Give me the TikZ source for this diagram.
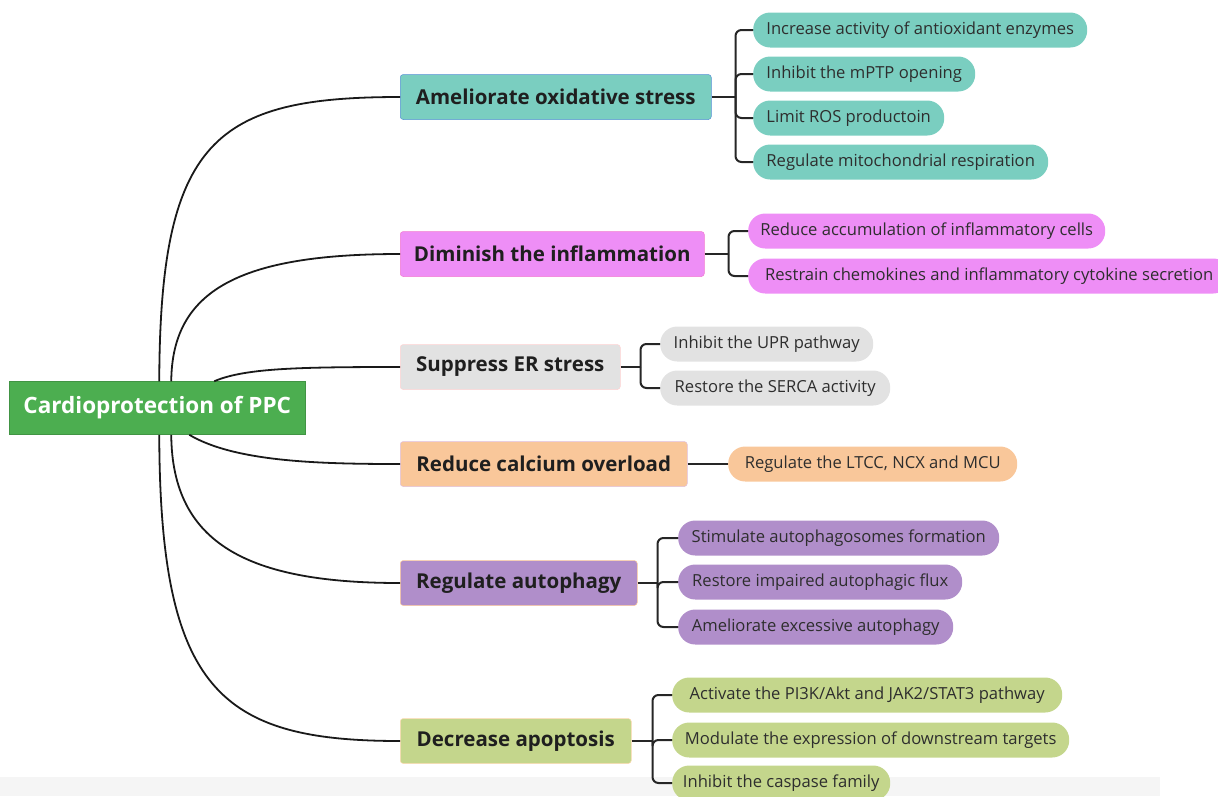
\documentclass[tikz,border=0pt]{standalone}
\usepackage{fontspec}
\setmainfont{Open Sans}
\usetikzlibrary{calc}
\definecolor{rootg}{RGB}{76,174,80}
\definecolor{tealc}{RGB}{122,206,192}
\definecolor{pinkc}{RGB}{238,142,246}
\definecolor{grayc}{RGB}{226,226,226}
\definecolor{peachc}{RGB}{249,199,154}
\definecolor{purplec}{RGB}{176,142,202}
\definecolor{olivec}{RGB}{196,214,140}
\definecolor{bandc}{RGB}{245,245,245}
\begin{document}
\begin{tikzpicture}[x=1pt,y=-1pt,
  rootbox/.style={fill=rootg, draw=rootg!85!black, line width=0.5pt, text=white,
    font=\bfseries\fontsize{22.5}{26}\selectfont, minimum height=53, minimum width=296,
    inner sep=0, anchor=west},
  lone/.style={rounded corners=3, minimum height=45, inner sep=0, anchor=west,
    line width=0.5pt, font=\bfseries\fontsize{20.5}{24}\selectfont, text=black!88},
  ltwo/.style={rounded corners=17, minimum height=35, inner sep=0, anchor=west,
    font=\fontsize{16.6}{19}\selectfont, text=black!82},
  conn/.style={line width=2pt, black!85},
  elbow/.style={conn, rounded corners=6},
  curve/.style={line width=1.8pt, black!90}]
\useasboundingbox (0,0) rectangle (1218,796);
\clip (0,0) rectangle (1218,796);
% faint band at the bottom
\fill[bandc] (0,777) rectangle (1160,796);

% root
\node[rootbox] (root) at (9,408) {Cardioprotection of PPC};

% level 1
\node[lone, fill=tealc, draw=tealc!70!blue, minimum width=311] (ox) at (400,97) {Ameliorate oxidative stress};
\node[lone, fill=pinkc, draw=pinkc!85!red, minimum width=304] (inf) at (400,254) {Diminish the inflammation};
\node[lone, fill=grayc, draw=pink!70, minimum width=220] (er) at (400,367) {Suppress ER stress};
\node[lone, fill=peachc, draw=violet!25, minimum width=287] (ca) at (400,464) {Reduce calcium overload};
\node[lone, fill=purplec, draw=orange!40, minimum width=237] (au) at (400,583) {Regulate autophagy};
\node[lone, fill=olivec, draw=orange!30, minimum width=231] (ap) at (400,741) {Decrease apoptosis};

% level 2
\node[ltwo, fill=tealc, minimum width=334] (ox1) at (753,30) {Increase activity of antioxidant enzymes};
\node[ltwo, fill=tealc, minimum width=222] (ox2) at (753,74) {Inhibit the mPTP opening};
\node[ltwo, fill=tealc, minimum width=191] (ox3) at (753,118) {Limit ROS productoin};
\node[ltwo, fill=tealc, minimum width=295] (ox4) at (753,162) {Regulate mitochondrial respiration};

\node[ltwo, fill=pinkc, minimum width=357] (in1) at (748,231) {Reduce accumulation of inflammatory cells};
\node[ltwo, fill=pinkc, minimum width=482] (in2) at (748,276) {Restrain chemokines and inflammatory cytokine secretion};

\node[ltwo, fill=grayc, minimum width=213] (er1) at (660,344) {Inhibit the UPR pathway};
\node[ltwo, fill=grayc, minimum width=230] (er2) at (660,388) {Restore the SERCA activity};

\node[ltwo, fill=peachc, minimum width=289] (ca1) at (728,464) {Regulate the LTCC, NCX and MCU};

\node[ltwo, fill=purplec, minimum width=321] (au1) at (678,538) {Stimulate autophagosomes formation};
\node[ltwo, fill=purplec, minimum width=284] (au2) at (678,582) {Restore impaired autophagic flux};
\node[ltwo, fill=purplec, minimum width=275] (au3) at (678,627) {Ameliorate excessive autophagy};

\node[ltwo, fill=olivec, minimum width=390] (ap1) at (672,695) {Activate the PI3K/Akt and JAK2/STAT3 pathway};
\node[ltwo, fill=olivec, minimum width=397] (ap2) at (672,740) {Modulate the expression of downstream targets};
\node[ltwo, fill=olivec, minimum width=218] (ap3) at (672,783) {Inhibit the caspase family};

% curves from root
\draw[curve] ([xshift=2]root.north) .. controls (160,140) and (215,97) .. (ox.west);
\draw[curve] ([xshift=14]root.north) .. controls (172,290) and (240,254) .. (inf.west);
\draw[curve] ([xshift=57]root.north) .. controls (245,368) and (300,367) .. (er.west);
\draw[curve] ([xshift=32]root.south) .. controls (235,462) and (320,464) .. (ca.west);
\draw[curve] ([xshift=14]root.south) .. controls (172,545) and (250,583) .. (au.west);
\draw[curve] ([xshift=2]root.south) .. controls (160,690) and (220,741) .. (ap.west);

% brackets
\coordinate (jox) at ($(ox.east)+(24,0)$);
\draw[conn] (ox.east) -- (jox);
\foreach \c in {ox1,ox2,ox3,ox4} \draw[elbow] (jox) |- (\c.west);

\coordinate (jin) at ($(inf.east)+(24,0)$);
\draw[conn] (inf.east) -- (jin);
\foreach \c in {in1,in2} \draw[elbow] (jin) |- (\c.west);

\coordinate (jer) at ($(er.east)+(20,0)$);
\draw[conn] (er.east) -- (jer);
\foreach \c in {er1,er2} \draw[elbow] (jer) |- (\c.west);

\draw[conn] (ca.east) -- (ca1.west);

\coordinate (jau) at ($(au.east)+(20,0)$);
\draw[conn] (au.east) -- (jau);
\foreach \c in {au1,au2,au3} \draw[elbow] (jau) |- (\c.west);

\coordinate (jap) at ($(ap.east)+(21,0)$);
\draw[conn] (ap.east) -- (jap);
\foreach \c in {ap1,ap2,ap3} \draw[elbow] (jap) |- (\c.west);
\end{tikzpicture}
\end{document}
